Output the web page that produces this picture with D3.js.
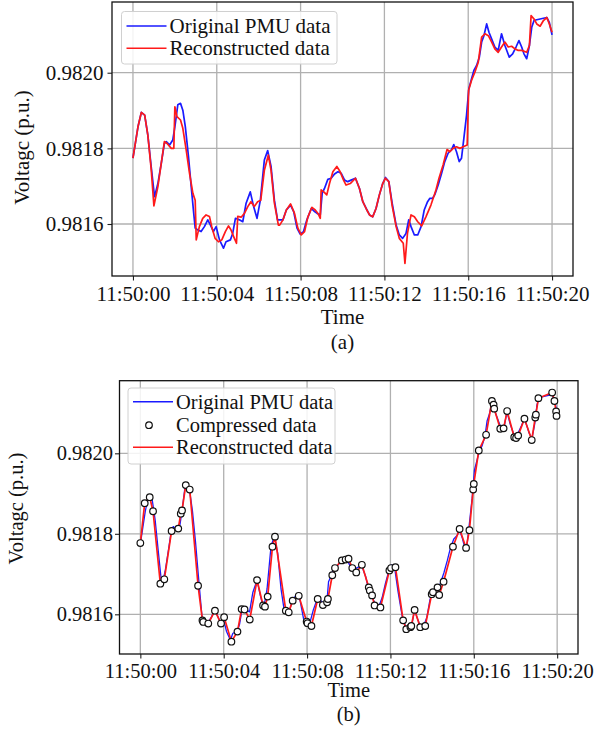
<!DOCTYPE html>
<html>
<head>
<meta charset="utf-8">
<script src="https://cdn.jsdelivr.net/npm/d3@7"></script>
<style>
  html, body { margin: 0; padding: 0; background: #fff; }
  svg { display: block; }
  svg text { font-family: "Liberation Serif", "Times New Roman", serif !important; }
</style>
</head>
<body>
<svg id="chart" width="597" height="730"></svg>
<script>
// seconds after 11:50:00, voltage in p.u.
const originalData = [
  [0, 0.981774], [0.24, 0.981857], [0.4, 0.981895], [0.56, 0.981888], [0.71, 0.981835],
  [0.87, 0.981752], [1.03, 0.981672], [1.19, 0.981707], [1.35, 0.98176], [1.5, 0.981813],
  [1.59, 0.981818], [1.75, 0.981809], [1.9, 0.981822], [2.0, 0.981857], [2.14, 0.981915],
  [2.27, 0.981919], [2.38, 0.981901], [2.5, 0.981857], [2.65, 0.981778], [2.78, 0.981699],
  [2.9, 0.981628], [2.97, 0.981589], [3.1, 0.981584], [3.25, 0.98158], [3.41, 0.981593],
  [3.57, 0.981611], [3.7, 0.981597], [3.84, 0.98158], [3.97, 0.981593], [4.13, 0.981558],
  [4.32, 0.981536], [4.44, 0.981553], [4.65, 0.981558], [4.76, 0.981575], [4.89, 0.981615],
  [5.08, 0.981611], [5.24, 0.981606], [5.4, 0.981655], [5.6, 0.981685], [5.76, 0.981646],
  [5.92, 0.981615], [6.08, 0.981663], [6.27, 0.981769], [6.43, 0.981794], [6.59, 0.981752],
  [6.75, 0.981663], [6.9, 0.981611], [7.0, 0.981611], [7.16, 0.981611], [7.32, 0.981637],
  [7.52, 0.98165], [7.67, 0.981633], [7.83, 0.981589], [7.98, 0.981573], [8.14, 0.98158],
  [8.3, 0.981611], [8.51, 0.981641], [8.67, 0.981633], [8.79, 0.981628], [8.94, 0.981624],
  [9.03, 0.981681], [9.14, 0.981694], [9.3, 0.981718], [9.46, 0.981721], [9.62, 0.981732],
  [9.78, 0.981738], [9.94, 0.981734], [10.1, 0.981716], [10.25, 0.981712], [10.41, 0.981716],
  [10.62, 0.981721], [10.81, 0.981694], [10.97, 0.981659], [11.13, 0.981641], [11.29, 0.981624],
  [11.44, 0.981619], [11.6, 0.981641], [11.76, 0.981677], [11.92, 0.981707], [12.05, 0.981723],
  [12.21, 0.981712], [12.37, 0.981655], [12.56, 0.981597], [12.71, 0.981571], [12.87, 0.981562],
  [13.03, 0.981575], [13.16, 0.981611], [13.27, 0.981593], [13.43, 0.981571], [13.59, 0.981571],
  [13.75, 0.981593], [13.9, 0.981637], [14.06, 0.981659], [14.17, 0.981668], [14.3, 0.981668],
  [14.4, 0.981677], [14.57, 0.981704], [14.73, 0.981734], [14.88, 0.981765], [15.04, 0.981787],
  [15.2, 0.981796], [15.31, 0.98181], [15.44, 0.981791], [15.57, 0.981765], [15.68, 0.981774],
  [15.79, 0.981826], [15.92, 0.981888], [16.03, 0.981958], [16.16, 0.981984], [16.27, 0.982006],
  [16.4, 0.982019], [16.53, 0.982041], [16.64, 0.982081], [16.75, 0.982098], [16.88, 0.982129],
  [16.99, 0.982107], [17.12, 0.982089], [17.27, 0.982068], [17.43, 0.982059], [17.59, 0.982103],
  [17.75, 0.982072], [17.96, 0.982041], [18.12, 0.98205], [18.28, 0.982068], [18.42, 0.982085],
  [18.55, 0.982068], [18.66, 0.98205], [18.79, 0.982037], [18.92, 0.982072], [19.03, 0.98212],
  [19.14, 0.982138], [19.27, 0.98214], [19.43, 0.982142], [19.59, 0.982144], [19.75, 0.982146],
  [19.87, 0.982133], [20.0, 0.9821]
];

// reconstruction shown in (a)
const reconstructedA = [
  [0, 0.981774], [0.24, 0.981857], [0.4, 0.981895], [0.56, 0.981888], [0.71, 0.981835],
  [0.87, 0.981745], [1.0, 0.981648], [1.19, 0.981699], [1.5, 0.981818], [1.63, 0.981813],
  [1.83, 0.9818], [1.95, 0.9818], [2.0, 0.98191], [2.1, 0.981884], [2.27, 0.981875],
  [2.38, 0.981853], [2.54, 0.981796], [2.7, 0.981734], [2.86, 0.981681], [2.97, 0.981663],
  [3.02, 0.981558], [3.17, 0.981593], [3.33, 0.981615], [3.49, 0.981624], [3.65, 0.98162],
  [3.76, 0.981593], [3.92, 0.981562], [4.08, 0.981553], [4.24, 0.981558], [4.41, 0.98158],
  [4.56, 0.981595], [4.68, 0.981584], [4.81, 0.981566], [4.94, 0.981549], [5.0, 0.98162],
  [5.16, 0.981618], [5.32, 0.981628], [5.48, 0.981646], [5.63, 0.981659], [5.79, 0.981646],
  [5.95, 0.981659], [6.1, 0.981663], [6.27, 0.981742], [6.46, 0.981782], [6.59, 0.981742],
  [6.75, 0.981655], [6.94, 0.981597], [7.0, 0.981597], [7.16, 0.981611], [7.32, 0.981637],
  [7.52, 0.981653], [7.71, 0.981628], [7.87, 0.981589], [8.03, 0.981571], [8.19, 0.98158],
  [8.35, 0.981619], [8.54, 0.981644], [8.7, 0.981637], [8.83, 0.981628], [8.94, 0.981615],
  [8.98, 0.98169], [9.11, 0.981685], [9.25, 0.981677], [9.38, 0.981707], [9.54, 0.981738],
  [9.73, 0.981752], [9.89, 0.981738], [10.05, 0.981716], [10.17, 0.981703], [10.37, 0.981707],
  [10.62, 0.981721], [10.81, 0.981694], [10.97, 0.981659], [11.16, 0.981637], [11.29, 0.981624],
  [11.44, 0.981619], [11.6, 0.981641], [11.76, 0.981677], [11.92, 0.981707], [12.05, 0.981721],
  [12.21, 0.981712], [12.37, 0.981648], [12.56, 0.981593], [12.71, 0.981562], [12.9, 0.981549],
  [12.98, 0.981496], [13.1, 0.981575], [13.27, 0.981624], [13.43, 0.981619], [13.59, 0.981606],
  [13.78, 0.981595], [13.98, 0.981619], [14.22, 0.98165], [14.46, 0.98169], [14.59, 0.981718],
  [14.8, 0.981756], [14.99, 0.981797], [15.12, 0.981791], [15.28, 0.9818], [15.44, 0.981804],
  [15.6, 0.9818], [15.76, 0.981804], [15.95, 0.981809], [16.02, 0.981954], [16.16, 0.98198],
  [16.32, 0.982002], [16.48, 0.982028], [16.64, 0.982094], [16.8, 0.982103], [16.96, 0.982098],
  [17.12, 0.982081], [17.27, 0.982063], [17.43, 0.982054], [17.59, 0.982068], [17.75, 0.982081],
  [17.91, 0.982068], [18.07, 0.98207], [18.23, 0.982063], [18.39, 0.982059], [18.55, 0.982059],
  [18.79, 0.982054], [18.92, 0.982072], [19.0, 0.982151], [19.14, 0.982142], [19.27, 0.982129],
  [19.43, 0.982123], [19.59, 0.982138], [19.75, 0.982146], [19.87, 0.982129], [20.0, 0.982107]
];

// compressed samples in (b); the reconstruction there runs through them
const compressedData = [
  [0, 0.981777], [0.21, 0.981876], [0.45, 0.981891], [0.61, 0.981856], [0.96, 0.981676],
  [1.15, 0.981687], [1.5, 0.981807], [1.82, 0.981813], [1.94, 0.98185], [2.0, 0.981858],
  [2.18, 0.981921], [2.37, 0.98191], [2.77, 0.981671], [2.98, 0.981585], [3.02, 0.981581],
  [3.26, 0.981577], [3.58, 0.981609], [3.87, 0.981577], [4.02, 0.981593], [4.37, 0.981532],
  [4.66, 0.981557], [4.86, 0.981613], [5.0, 0.981612], [5.25, 0.981587], [5.6, 0.981685],
  [5.89, 0.981622], [5.98, 0.981619], [6.11, 0.981644], [6.34, 0.981768], [6.46, 0.981793],
  [6.98, 0.981609], [7.12, 0.981605], [7.31, 0.981634], [7.6, 0.981646], [7.98, 0.981582],
  [8.02, 0.981578], [8.21, 0.981571], [8.51, 0.981638], [8.76, 0.981623], [8.96, 0.98163],
  [9.0, 0.981638], [9.21, 0.981697], [9.34, 0.981715], [9.67, 0.981734], [9.85, 0.981736],
  [9.99, 0.981738], [10.17, 0.981715], [10.36, 0.981704], [10.63, 0.981723], [10.96, 0.981667],
  [11.01, 0.981659], [11.12, 0.981647], [11.24, 0.981622], [11.52, 0.981617], [11.95, 0.981709],
  [12.03, 0.981715], [12.24, 0.981717], [12.61, 0.981585], [12.76, 0.981563], [12.96, 0.981568],
  [13.0, 0.981571], [13.16, 0.981611], [13.43, 0.981568], [13.67, 0.981571], [13.98, 0.98165],
  [14.04, 0.981655], [14.26, 0.981667], [14.34, 0.981648], [14.55, 0.981681], [15.0, 0.981768],
  [15.32, 0.981812], [15.63, 0.981765], [15.79, 0.981809], [15.97, 0.98191], [16.0, 0.981924],
  [16.24, 0.982007], [16.59, 0.982046], [16.87, 0.98213], [16.95, 0.982121], [16.98, 0.982111],
  [17.27, 0.982061], [17.43, 0.982062], [17.6, 0.982105], [17.94, 0.98204], [18.03, 0.982038],
  [18.13, 0.982044], [18.43, 0.982086], [18.78, 0.982033], [18.95, 0.982089], [18.98, 0.982096],
  [19.1, 0.982137], [19.76, 0.982151], [19.87, 0.98213], [19.95, 0.982104], [19.97, 0.982093]
];

const xTickSeconds = [0, 4, 8, 12, 16, 20];
const yTicks = [0.9816, 0.9818, 0.9820];
const legendA = ['Original PMU data', 'Reconstructed data'];
const legendB = ['Original PMU data', 'Compressed data', 'Reconstructed data'];
const yTitle = 'Voltagc (p.u.)';
const xTitle = 'Time';

const startTime = new Date(2021, 0, 1, 11, 50, 0);
const atSecond = s => new Date(startTime.getTime() + s * 1000);
const fmtTime = d3.timeFormat('%H:%M:%S');

const svg = d3.select('#chart');
const defs = svg.append('defs');

function drawPanel(p) {
  const x = d3.scaleTime()
    .domain([atSecond(-1), atSecond(21)])
    .range([p.left, p.right]);
  const y = d3.scaleLinear()
    .domain(p.yDomain)
    .range([p.bottom, p.top]);

  const g = svg.append('g').attr('class', 'panel-' + p.id);

  // grid
  g.append('g').selectAll('line.vgrid')
    .data(xTickSeconds)
    .join('line')
    .attr('x1', d => x(atSecond(d))).attr('x2', d => x(atSecond(d)))
    .attr('y1', p.top).attr('y2', p.bottom)
    .attr('stroke', '#b0b0b0').attr('stroke-width', 1.3);
  g.append('g').selectAll('line.hgrid')
    .data(yTicks)
    .join('line')
    .attr('x1', p.left).attr('x2', p.right)
    .attr('y1', d => y(d)).attr('y2', d => y(d))
    .attr('stroke', '#b0b0b0').attr('stroke-width', 1.3);

  // axes
  const xAxis = d3.axisBottom(x)
    .tickValues(xTickSeconds.map(atSecond))
    .tickFormat(fmtTime)
    .tickSize(4.5)
    .tickPadding(p.xPad);
  const yAxis = d3.axisLeft(y)
    .tickValues(yTicks)
    .tickFormat(d3.format('.4f'))
    .tickSize(4.5)
    .tickPadding(p.yPad);

  g.append('g')
    .attr('transform', `translate(0,${p.bottom})`)
    .call(xAxis)
    .call(a => a.select('.domain').remove())
    .attr('font-family', null)
    .attr('font-size', p.fontSize);
  g.append('g')
    .attr('transform', `translate(${p.left},0)`)
    .call(yAxis)
    .call(a => a.select('.domain').remove())
    .attr('font-family', null)
    .attr('font-size', p.fontSize);

  g.selectAll('.tick text').attr('fill', '#111');
  g.selectAll('.tick line').attr('stroke', '#222').attr('stroke-width', 1.1);

  // clip for data
  const clipId = 'clip-' + p.id;
  defs.append('clipPath').attr('id', clipId)
    .append('rect')
    .attr('x', p.left).attr('y', p.top)
    .attr('width', p.right - p.left).attr('height', p.bottom - p.top);

  const line = d3.line()
    .x(d => x(atSecond(d[0])))
    .y(d => y(d[1]));

  const plot = g.append('g').attr('clip-path', `url(#${clipId})`);
  plot.append('path')
    .datum(originalData)
    .attr('fill', 'none')
    .attr('stroke', '#1a1aff')
    .attr('stroke-width', p.blueWidth)
    .attr('stroke-linejoin', 'round')
    .attr('d', line);
  plot.append('path')
    .datum(p.recon)
    .attr('fill', 'none')
    .attr('stroke', '#ff1a1a')
    .attr('stroke-width', p.redWidth)
    .attr('stroke-linejoin', 'round')
    .attr('d', line);
  if (p.points) {
    plot.selectAll('circle.comp')
      .data(p.points)
      .join('circle')
      .attr('class', 'comp')
      .attr('cx', d => x(atSecond(d[0])))
      .attr('cy', d => y(d[1]))
      .attr('r', 3.3)
      .attr('fill', '#fff')
      .attr('stroke', '#111')
      .attr('stroke-width', 1.2);
  }

  // frame
  g.append('rect')
    .attr('x', p.left).attr('y', p.top)
    .attr('width', p.right - p.left).attr('height', p.bottom - p.top)
    .attr('fill', 'none')
    .attr('stroke', '#111')
    .attr('stroke-width', 1.3);

  // legend
  const lg = p.legend;
  const leg = g.append('g');
  leg.append('rect')
    .attr('x', lg.x).attr('y', lg.y)
    .attr('width', lg.w).attr('height', lg.h)
    .attr('rx', 3)
    .attr('fill', '#fff').attr('fill-opacity', 0.85)
    .attr('stroke', '#d0d0d0').attr('stroke-width', 1);
  const rows = leg.selectAll('g.row')
    .data(lg.items)
    .join('g')
    .attr('transform', (d, i) => `translate(0,${lg.rows[i]})`);
  rows.each(function (d) {
    const r = d3.select(this);
    if (d.kind === 'line') {
      r.append('line')
        .attr('x1', lg.x + 5).attr('x2', lg.x + 45)
        .attr('stroke', d.color).attr('stroke-width', 1.6);
    } else {
      r.append('circle')
        .attr('cx', lg.x + 21).attr('r', 3.3)
        .attr('fill', '#fff').attr('stroke', '#111').attr('stroke-width', 1.2);
    }
    r.append('text')
      .attr('x', lg.x + 48)
      .attr('dy', '0.34em')
      .attr('font-size', p.fontSize)
      .attr('fill', '#111')
      .text(d.label);
  });

  // titles
  const cx = (p.left + p.right) / 2;
  g.append('text')
    .attr('x', cx).attr('y', p.xTitleY)
    .attr('text-anchor', 'middle')
    .attr('dy', '0.34em')
    .attr('font-size', p.fontSize)
    .attr('fill', '#111')
    .text(xTitle);
  g.append('text')
    .attr('x', cx).attr('y', p.captionY)
    .attr('text-anchor', 'middle')
    .attr('dy', '0.34em')
    .attr('font-size', p.fontSize)
    .attr('fill', '#111')
    .text(p.caption);
  g.append('text')
    .attr('transform', `translate(${p.yTitleX},${p.yTitleY}) rotate(-90)`)
    .attr('text-anchor', 'middle')
    .attr('dy', '0.34em')
    .attr('font-size', p.fontSize)
    .attr('fill', '#111')
    .text(yTitle);
}

drawPanel({
  id: 'a',
  left: 112, right: 573, top: 2, bottom: 276,
  yDomain: [0.9814625, 0.982187],
  xPad: 6, yPad: 4,
  fontSize: 21,
  blueWidth: 1.7, redWidth: 1.7,
  recon: reconstructedA,
  points: null,
  legend: {
    x: 121.5, y: 11.5, w: 215.5, h: 52.5, rows: [26, 48.3],
    items: [
      { kind: 'line', color: '#1a1aff', label: legendA[0] },
      { kind: 'line', color: '#ff1a1a', label: legendA[1] }
    ]
  },
  xTitleY: 317, captionY: 342, yTitleX: 22, yTitleY: 147.5,
  caption: '(a)'
});

drawPanel({
  id: 'b',
  left: 119.5, right: 578, top: 380.7, bottom: 654,
  yDomain: [0.9815014, 0.9821804],
  xPad: 5, yPad: 2,
  fontSize: 20.5,
  blueWidth: 1.3, redWidth: 1.7,
  recon: compressedData,
  points: compressedData,
  legend: {
    x: 128, y: 388, w: 207, h: 76, rows: [401.7, 425.2, 447.3],
    items: [
      { kind: 'line', color: '#1a1aff', label: legendB[0] },
      { kind: 'marker', label: legendB[1] },
      { kind: 'line', color: '#ff1a1a', label: legendB[2] }
    ]
  },
  xTitleY: 690, captionY: 714, yTitleX: 16, yTitleY: 508.5,
  caption: '(b)'
});
</script>
</body>
</html>
